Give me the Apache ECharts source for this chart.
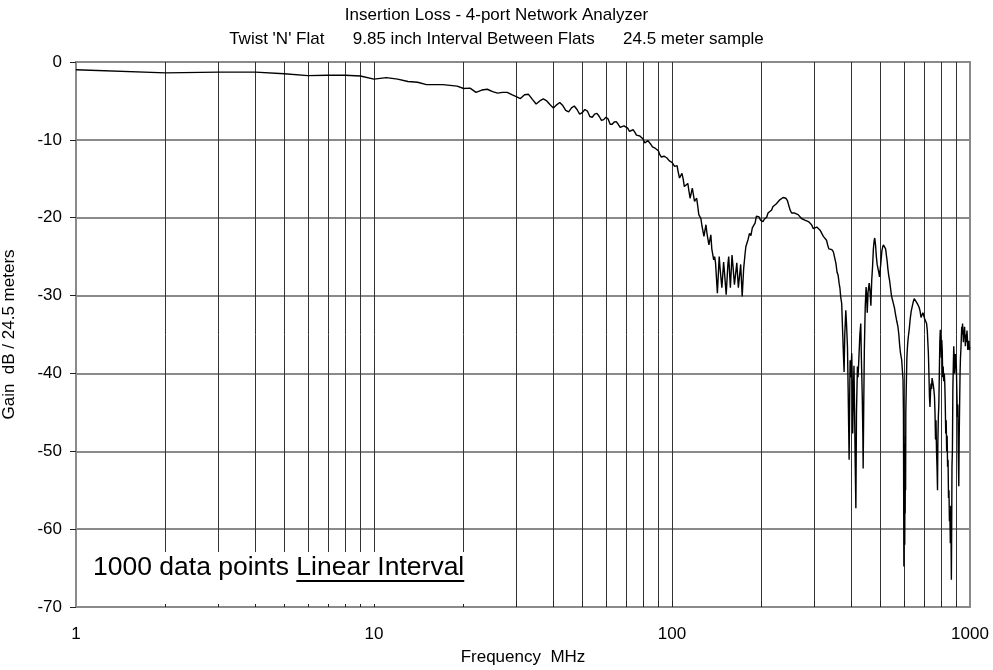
<!DOCTYPE html>
<html><head><meta charset="utf-8">
<script src="https://cdn.jsdelivr.net/npm/echarts@6/dist/echarts.min.js"></script>
<style>html,body{margin:0;padding:0;background:#fff}#c{width:993px;height:670px}</style>
</head><body><div id="c"></div>
<script>
// [frequency MHz, gain dB]
const bandLow = [
[1,-1.0],[2,-1.4],[3,-1.3],[4,-1.3],[5,-1.5],[6,-1.75],[7,-1.7],[8,-1.7],[9,-1.8],[10,-2.2],
[11,-2.0],[12,-2.2],[13,-2.5],[14,-2.6],[15,-2.9],[16,-2.9],[17,-2.9],[18,-3.0],[19,-3.1],[20,-3.4],
[21,-3.35],[22,-3.9],[23,-3.6],[24,-3.5],[25,-3.8],[26,-4.0],[27,-3.9],[28,-3.9],[29,-4.2],[30,-4.45],
[31,-4.7],[32,-4.2],[33,-4.15],[34,-4.8],[35,-5.4],[36,-5.0],[37,-4.75],[38,-5.0],[39,-5.5],[40,-5.9],
[41,-5.5],[42,-5.2],[43,-5.6],[44,-6.2],[45,-6.4],[46,-5.9],[47,-5.65],[48,-6.1],[49,-6.7],[50,-6.5],
[51,-6.1],[52,-6.3],[53,-7.0],[54,-7.1],[55,-6.7],[56,-6.6],[57,-7.0],[58,-7.5],[59,-7.4],[60,-7.1],
[61,-7.3],[62,-8.0],[63,-8.0],[64,-7.7],[65,-7.66],[66,-8.0],[67,-8.4],[68,-8.5],[69,-8.2],[70,-8.1],
[71,-8.5],[72,-8.9],[73,-8.8],[74,-8.7],[75,-9.0],[76,-9.4],[77,-9.3],[78,-9.5],[79,-9.6],[80,-9.9],
[81,-10.4],[82,-10.2],[83,-10.1],[84,-10.2],[85,-10.6],[86,-10.9],[87,-10.9],[88,-11.1],[89,-11.2],[90,-11.4],
[91,-11.9],[92,-12.2],[93,-12.0],[94,-12.1],[95,-12.3],[96,-12.3],[97,-12.5],[98,-12.7],[99,-12.8],[100,-12.9]
];
const bandMid = [
[101,-13.0],[102,-13.4],[103,-13.6],[104,-13.3],[105,-14.2],[106,-14.9],[107,-14.6],[108,-14.3],[109,-15.0],[110,-16.0],
[111,-15.8],[113,-15.6],[114,-16.6],[115,-17.5],[117,-16.2],[119,-17.9],[121,-17.5],[122,-18.5],[123,-19.6],[125,-20.1],
[126,-21.0],[128,-22.4],[130,-20.9],[131,-22.0],[133,-23.5],[135,-22.2],[136,-24.0],[138,-25.4],[139,-25.0],[140,-25.8],
[142,-29.7],[144,-25.0],[145,-26.5],[147,-29.0],[149,-25.7],[150,-27.0],[152,-29.9],[154,-26.0],[155,-25.0],[157,-29.0],
[159,-24.8],[160,-26.0],[162,-28.6],[165,-25.8],[167,-29.0],[170,-26.0],[172,-30.1],[174,-26.5],[176,-24.5],[177,-23.7],
[180,-22.8],[182,-22.0],[184,-22.3],[186,-21.3],[188,-21.5],[190,-20.7],[192,-19.8],[194,-20.0],[196,-19.9],[198,-20.3],
[200,-20.1],[202,-20.5],[204,-20.2],[206,-20.0],[208,-19.9],[210,-19.4],[213,-19.2],[216,-19.0],[218,-18.6],[221,-18.5],
[224,-18.2],[227,-18.0],[230,-17.7],[233,-17.6],[236,-17.4],[239,-17.3],[241,-17.5],[244,-17.8],[246,-18.3],[249,-19.0],
[252,-19.4],[255,-19.2],[258,-19.4],[261,-19.3],[265,-19.6],[268,-19.8],[272,-20.1],[275,-19.9],[279,-20.3],[283,-20.2],
[287,-20.5],[290,-20.7],[294,-20.9],[298,-21.4]
];
const bandHigh = [
[302,-21.6],[306,-21.2],[310,-21.3],[314,-21.6],[318,-21.8],[322,-22.4],[326,-22.6],[330,-22.9],[333,-23.5],[336,-24.0],
[340,-24.2],[344,-24.1],[348,-24.4],[352,-24.6],[355,-25.9],[358,-27.0],[361,-27.4],[364,-28.5],[366,-29.0],[368,-30.1],
[371,-31.0],[374,-34.9],[376,-37.5],[378,-39.8],[380,-35.0],[383,-31.9],[385,-33.5],[388,-36.6],[390,-42.0],[393,-51.1],
[395,-42.0],[396,-38.3],[398,-40.5],[401,-37.4],[403,-42.0],[404,-47.7],[406,-43.0],[408,-39.0],[410,-45.0],[412,-52.0],
[414,-57.3],[416,-45.0],[419,-39.1],[421,-40.5],[424,-37.8],[427,-35.0],[430,-33.6],[432,-38.0],[435,-43.0],[437,-48.0],
[438,-52.2],[440,-44.0],[442,-37.0],[445,-31.5],[448,-28.9],[450,-30.0],[452,-32.2],[455,-29.5],[459,-28.4],[462,-29.5],
[465,-31.3],[468,-28.0],[471,-26.3],[474,-24.0],[477,-22.9],[479,-22.6],[482,-23.5],[485,-25.0],[488,-26.0],[491,-26.5],
[494,-27.0],[497,-27.6],[500,-27.4],[503,-25.5],[506,-24.3],[509,-23.8],[512,-23.5],[515,-23.3],[518,-23.5],[521,-24.0],
[524,-24.8],[527,-25.5],[530,-26.5],[534,-27.5],[537,-28.0],[541,-29.0],[545,-30.0],[549,-30.5],[553,-31.0],[558,-31.6],
[563,-32.5],[568,-33.3],[573,-34.0],[577,-35.0],[581,-36.5],[585,-37.5],[590,-38.3],[594,-40.0],[596,-40.8],[598,-45.0],
[599,-56.0],[600,-64.8],[601,-50.0],[602,-60.0],[603,-49.0],[604,-62.0],[605,-52.0],[606,-58.0],[607,-48.0],[608,-55.0],
[609,-45.0],[611,-42.0],[614,-38.0],[617,-36.5],[620,-35.5],
[625,-34.4],[630,-33.0],[635,-32.0],[640,-31.4],[645,-30.8],[650,-30.4],[655,-30.6],[660,-30.3],[665,-31.0],[670,-31.0],
[675,-31.5],[680,-32.0],[685,-32.8],[690,-32.5],[695,-32.2],[700,-32.4],[705,-33.0],[710,-33.3],[715,-33.6],[719,-34.5],
[722,-36.0],[725,-37.4],[728,-40.0],[731,-43.0],[734,-44.3],[737,-42.5],[740,-41.3],[743,-42.0],[746,-40.6],[750,-40.4],
[753,-41.5],[756,-42.0],[760,-43.0],[763,-45.0],[766,-48.5],[769,-46.0],[772,-50.0],[775,-52.0],[778,-55.0],[780,-49.0],
[783,-45.6],[786,-44.0],[789,-40.0],[792,-36.0],[795,-34.4],[798,-35.5],[801,-38.0],[804,-35.7],[807,-37.0],[810,-40.5],
[813,-39.1],[816,-41.0],[820,-40.0],[823,-41.3],[826,-44.0],[829,-47.7],[832,-46.0],[835,-50.0],[838,-48.0],[841,-52.0],
[844,-51.1],[847,-56.0],[850,-55.0],[853,-59.0],[856,-58.0],[859,-61.8],[862,-57.0],[866,-66.5],[868,-60.0],[870,-52.0],
[873,-49.8],[876,-42.0],[879,-39.1],[882,-36.5],[885,-38.0],[888,-40.0],[891,-39.0],[894,-37.5],[897,-38.5],[900,-39.1],
[903,-42.0],[907,-45.6],[910,-44.0],[913,-50.0],[917,-54.5],[920,-48.0],[923,-44.0],[926,-40.0],[929,-38.0],[932,-37.0],
[935,-35.5],[938,-34.0],[941,-35.0],[944,-33.6],[947,-34.5],[950,-36.0],[953,-34.8],[956,-35.2],[959,-34.0],[962,-35.3],
[965,-36.5],[968,-35.0],[971,-36.0],[974,-36.2],[977,-34.5],[980,-35.5],[983,-37.0],[986,-36.0],[989,-36.5],[992,-35.8],
[995,-37.0],[998,-36.6],[1000,-36.6]
];
const xGridValues = [2,3,4,5,6,7,8,9,10,20,30,40,50,60,70,80,90,100,200,300,400,500,600,700,800,900];
const xTickValues = [2,3,4,5,6,7,8,9,10,20,30,40,50,60,70,80,90,100,200,300,400,500,600,700,800,900];
const yMin = -70, yMax = 0, yStep = 10;
const titleText = "Insertion Loss - 4-port Network Analyzer";
const subtitleText = "Twist 'N' Flat      9.85 inch Interval Between Flats      24.5 meter sample";
const noteLead = "1000 data points ";
const noteUnder = "Linear Interval";

const FONT = "'Liberation Sans', Arial, sans-serif";
const data = bandLow.concat(bandMid, bandHigh);

const chart = echarts.init(document.getElementById('c'), null, {renderer: 'canvas'});

// measure note text for the underline
const ctx = document.createElement('canvas').getContext('2d');
const noteSize = 26.5;
ctx.font = noteSize + "px 'Liberation Sans'";
const leadW = ctx.measureText(noteLead).width;
const underW = ctx.measureText(noteUnder).width;
const noteX = 93, noteY = 568;

const tickLenDb = (yMax - yMin) * 6 / 545;

chart.setOption({
  animation: false,
  backgroundColor: '#fff',
  title: [
    {text: titleText, left: 'center', top: 2,
     textStyle: {fontFamily: FONT, fontSize: 17, fontWeight: 'normal', color: '#000'}},
    {text: subtitleText, left: 'center', top: 26,
     textStyle: {fontFamily: FONT, fontSize: 17, fontWeight: 'normal', color: '#000'}}
  ],
  grid: {left: 76, right: 23, top: 62, bottom: 63, containLabel: false, outerBoundsMode: 'none',
         show: true, borderColor: '#8a8a8a', borderWidth: 2, backgroundColor: 'transparent'},
  xAxis: {
    type: 'log', logBase: 10, min: 1, max: 1000,
    name: 'Frequency  MHz', nameLocation: 'middle', nameGap: 42,
    nameTextStyle: {fontFamily: FONT, fontSize: 17, color: '#000'},
    axisLine: {show: true, lineStyle: {color: '#8a8a8a', width: 2}},
    axisTick: {show: false},
    splitLine: {show: false},
    minorTick: {show: false},
    axisLabel: {fontFamily: FONT, fontSize: 17, color: '#000', margin: 19, formatter: v => String(v)}
  },
  yAxis: {
    type: 'value', min: yMin, max: yMax, interval: yStep,
    name: 'Gain  dB / 24.5 meters', nameLocation: 'middle', nameGap: 58,
    nameTextStyle: {fontFamily: FONT, fontSize: 17, color: '#000'},
    axisLine: {show: true, lineStyle: {color: '#8a8a8a', width: 2}},
    axisTick: {show: true, inside: false, length: 6, lineStyle: {color: '#222', width: 1}},
    splitLine: {show: true, lineStyle: {color: '#8a8a8a', width: 2}},
    axisLabel: {fontFamily: FONT, fontSize: 17, color: '#000', margin: 14}
  },
  graphic: [
    {type: 'rect', z: 10, silent: true, shape: {x: 77, y: 552, width: 410, height: 52}, style: {fill: '#fff'}},
    {type: 'text', z: 11, silent: true, style: {x: noteX, y: noteY, text: noteLead + noteUnder,
      font: noteSize + "px 'Liberation Sans', Arial, sans-serif", fill: '#000', verticalAlign: 'middle', align: 'left'}},
    {type: 'line', z: 11, silent: true, shape: {x1: noteX + leadW, y1: 581, x2: noteX + leadW + underW, y2: 581},
      style: {stroke: '#000', lineWidth: 2}}
  ],
  series: [
    {
      // vertical grid lines (drawn under the note box)
      type: 'line', data: data, showSymbol: false, symbol: 'none', z: 5, silent: true,
      lineStyle: {opacity: 0},
      markLine: {
        silent: true, symbol: 'none', label: {show: false}, animation: false,
        lineStyle: {color: '#333', width: 1, type: 'solid'},
        data: xGridValues.map(v => ({xAxis: v}))
      }
    },
    {
      // the measured curve, plus the short inside ticks on the frequency axis
      type: 'line', data: data, showSymbol: false, symbol: 'none', z: 20,
      lineStyle: {color: '#000', width: 1.4},
      markLine: {
        silent: true, symbol: 'none', label: {show: false}, animation: false,
        lineStyle: {color: '#222', width: 1, type: 'solid'},
        data: xTickValues.map(v => [{coord: [v, yMin]}, {coord: [v, yMin + tickLenDb]}])
      }
    }
  ]
});
</script></body></html>
